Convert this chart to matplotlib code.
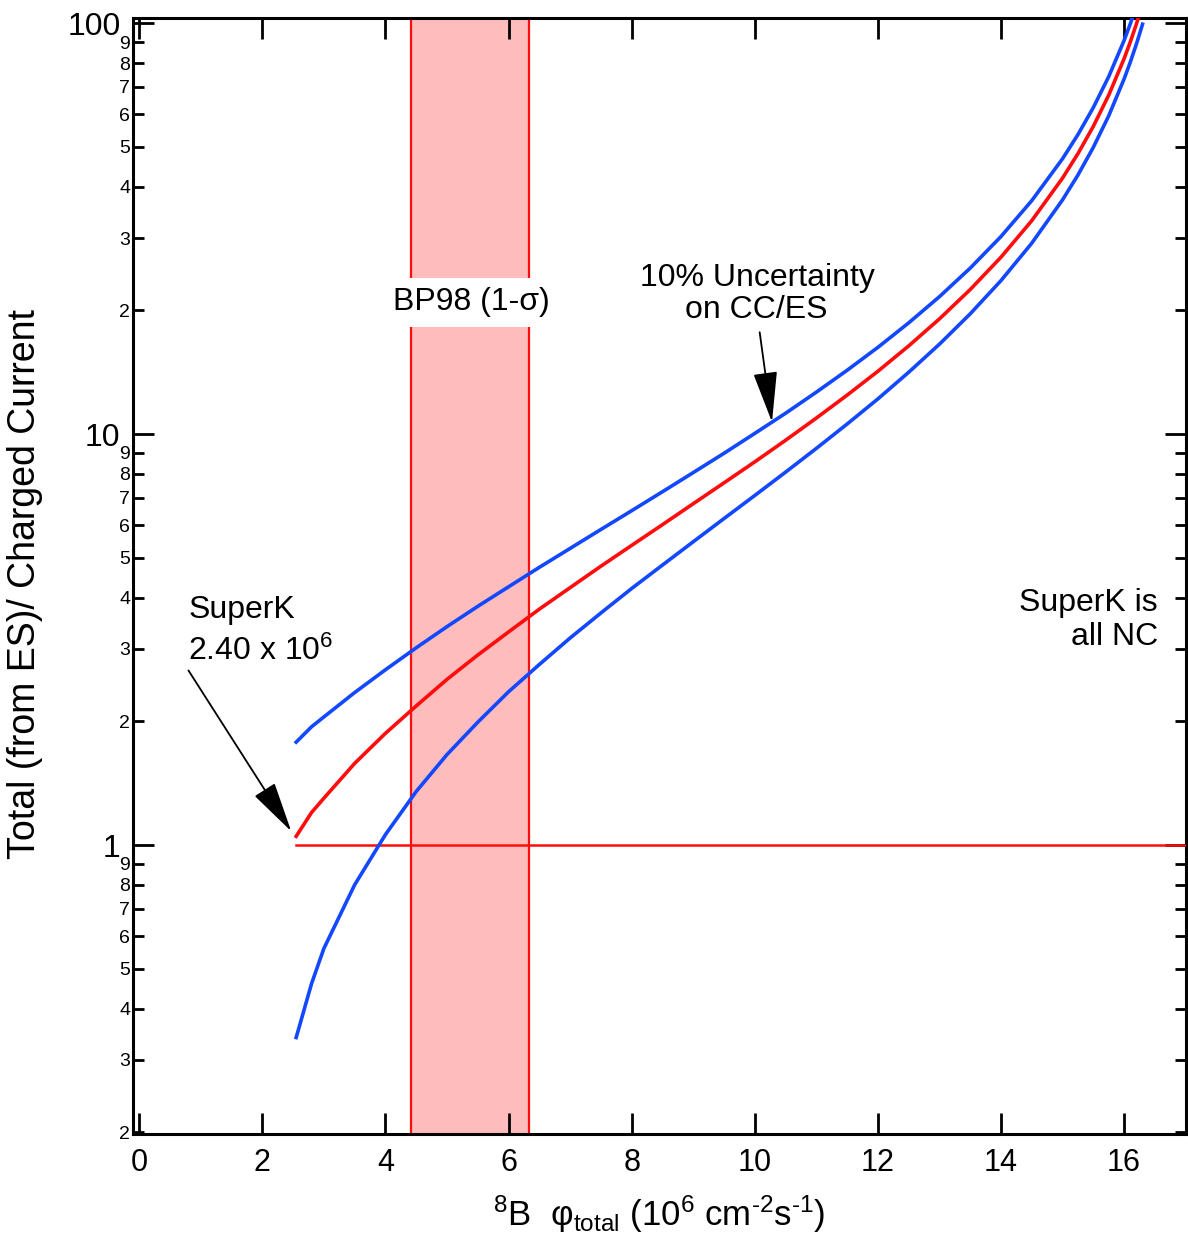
import numpy as np
import matplotlib
matplotlib.use('Agg')
import matplotlib.pyplot as plt
from matplotlib.ticker import FixedLocator, LogLocator, FuncFormatter

# valores
phi = [2.55, 2.8, 3.0, 3.5, 4.0, 4.5, 5.0, 5.5, 6.0, 6.5, 7.0, 7.5, 8.0, 8.5,
       9.0, 9.5, 10.0, 10.5, 11.0, 11.5, 12.0, 12.5, 13.0, 13.5, 14.0, 14.5,
       15.0, 15.25, 15.5, 15.75, 16.0, 16.1, 16.2, 16.3]
ratio_mid = [1.05, 1.20, 1.30, 1.58, 1.87, 2.18, 2.53, 2.90, 3.30, 3.75, 4.23,
             4.77, 5.36, 6.02, 6.77, 7.61, 8.56, 9.66, 10.94, 12.44, 14.22,
             16.39, 19.07, 22.48, 26.95, 33.07, 41.98, 48.13, 56.10, 66.80,
             81.95, 89.93, 99.50, 111.2]
ratio_hi = [1.78, 1.94, 2.05, 2.35, 2.67, 3.02, 3.40, 3.81, 4.25, 4.74, 5.27,
            5.86, 6.51, 7.24, 8.06, 8.98, 10.04, 11.24, 12.65, 14.30, 16.26,
            18.65, 21.60, 25.35, 30.26, 37.00, 46.79, 53.56, 62.33, 74.10,
            90.76, 99.54, 110.1, 123.0]
ratio_lo = [0.34, 0.46, 0.56, 0.80, 1.06, 1.35, 1.66, 1.99, 2.36, 2.75, 3.19,
            3.67, 4.21, 4.80, 5.47, 6.23, 7.09, 8.08, 9.23, 10.58, 12.18,
            14.14, 16.55, 19.62, 23.64, 29.15, 37.16, 42.70, 49.87, 59.50,
            73.14, 80.32, 88.93, 99.46]
bp98 = [4.42, 6.33]
superk = 2.55
x_ticks = [0, 2, 4, 6, 8, 10, 12, 14, 16]

plt.rcParams['font.family'] = ['Liberation Sans', 'DejaVu Sans']
plt.rcParams['mathtext.fontset'] = 'custom'
plt.rcParams['mathtext.rm'] = 'Liberation Sans'
plt.rcParams['mathtext.it'] = 'Liberation Sans:italic'
plt.rcParams['mathtext.bf'] = 'Liberation Sans:bold'

azul = '#1248ff'
verm = '#ff0d0d'

fig = plt.figure(figsize=(11.88, 12.47), dpi=100)
ax = fig.add_axes([0.112, 0.0906, 0.886, 0.895])

# faixa BP98
ax.axvspan(bp98[0], bp98[1], color='#ffbcbc', lw=0, zorder=1)
for b in bp98:
    ax.axvline(b, color=verm, lw=1.6, zorder=2)

ax.plot([superk, 17.5], [1, 1], color=verm, lw=1.8, zorder=3)
ax.plot(phi, ratio_hi, color=azul, lw=2.6, zorder=4)
ax.plot(phi, ratio_lo, color=azul, lw=2.6, zorder=4)
ax.plot(phi, ratio_mid, color=verm, lw=2.6, zorder=5)

ax.set_yscale('log')
ax.set_xlim(-0.1, 17.0)
ax.set_ylim(0.198, 103)

ax.xaxis.set_major_locator(FixedLocator(x_ticks))
ax.yaxis.set_major_locator(FixedLocator([1, 10, 100]))
ax.yaxis.set_major_formatter(FuncFormatter(lambda v, p: '%d' % round(v)))
ax.yaxis.set_minor_locator(LogLocator(base=10, subs=range(2, 10), numticks=20))
ax.yaxis.set_minor_formatter(FuncFormatter(
    lambda v, p: '%d' % round(v / 10 ** np.floor(np.log10(v) + 1e-9))))

for s in ax.spines.values():
    s.set_linewidth(2.2)
ax.tick_params(which='both', direction='in', top=True, right=True, width=2)
ax.tick_params(axis='x', which='major', length=15, labelsize=22, pad=10)
ax.tick_params(axis='y', which='major', length=15, labelsize=23, pad=9)
ax.tick_params(axis='y', which='minor', length=8, labelsize=14, pad=2)

ax.set_ylabel('Total (from ES)/ Charged Current', fontsize=27, va='center')
ax.yaxis.set_label_coords(-0.103, 0.493)
ax.set_xlabel('$^{8}$B  φ$_{\\rm total}$ (10$^{6}$ cm$^{\\text{-2}}$s$^{\\text{-1}}$)',
              fontsize=25, va='center')
ax.xaxis.set_label_coords(0.5, -0.072)

ax.text(5.40, 20.95, 'BP98 (1-σ)', fontsize=23, ha='center', va='center',
        zorder=6, bbox=dict(fc='white', ec='none', pad=7))

ax.text(0.80, 3.57, 'SuperK', fontsize=23, ha='left', va='baseline')
ax.text(0.80, 2.82, '2.40 x 10$^{6}$', fontsize=23, ha='left', va='baseline')
ax.annotate('', xy=(2.47, 1.08), xytext=(0.80, 2.66),
            arrowprops=dict(arrowstyle='-|>,head_length=1.6,head_width=0.38',
                            mutation_scale=20, lw=1.3, color='black',
                            shrinkA=0, shrinkB=0), zorder=7)

ax.text(10.05, 22.9, '10% Uncertainty', fontsize=23, ha='center', va='baseline')
ax.text(10.02, 19.15, 'on CC/ES', fontsize=23, ha='center', va='baseline')
ax.annotate('', xy=(10.28, 10.7), xytext=(10.08, 17.7),
            arrowprops=dict(arrowstyle='-|>,head_length=1.6,head_width=0.38',
                            mutation_scale=20, lw=1.3, color='black',
                            shrinkA=0, shrinkB=0), zorder=7)

ax.text(16.55, 3.71, 'SuperK is', fontsize=23, ha='right', va='baseline')
ax.text(16.55, 3.07, 'all NC', fontsize=23, ha='right', va='baseline')

fig.savefig('out.png', dpi=100)
